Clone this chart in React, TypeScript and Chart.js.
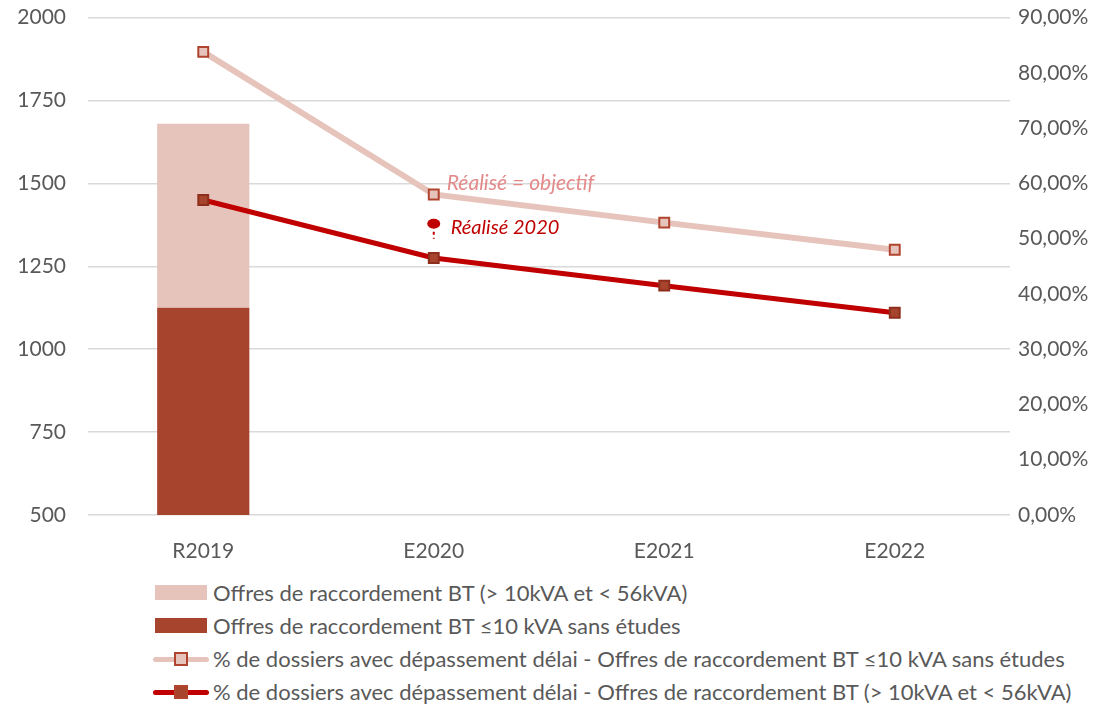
import React, { useEffect, useRef } from "react";
import { Chart, registerables } from "chart.js";

Chart.register(...registerables);

const categories = ["R2019", "E2020", "E2021", "E2022"];
const barDark = [1125, null, null, null];
const barLightStack = [555, null, null, null];
const lineLight = [83.8, 58.0, 52.9, 48.0];
const lineDark = [57.0, 46.5, 41.5, 36.6];
const realise2020 = 52.7;
const realiseIndex = 1;

const labelBarLight = "Offres de raccordement BT (> 10kVA et < 56kVA)";
const labelBarDark = "Offres de raccordement BT \u226410 kVA sans \u00e9tudes";
const labelLineLight = "% de dossiers avec d\u00e9passement d\u00e9lai - Offres de raccordement BT \u226410 kVA sans \u00e9tudes";
const labelLineDark = "% de dossiers avec d\u00e9passement d\u00e9lai - Offres de raccordement BT (> 10kVA et < 56kVA)";
const annotObjectif = "R\u00e9alis\u00e9 = objectif";
const annotRealise = "R\u00e9alis\u00e9 2020";

const FONT = "Lato, 'Open Sans', sans-serif";
const TEXT = "#595959";
const C_LIGHT_BAR = "#E6C4BB";
const C_DARK_BAR = "#A6442E";
const C_LIGHT_LINE = "#E6C4BB";
const C_DARK_LINE = "#C00000";
const C_MARK_BORDER = "#B0442E";

const annotPlugin = {
  id: "annot",
  afterDatasetsDraw(chart: any) {
    const ctx = chart.ctx;
    const x = chart.scales.x.getPixelForValue(realiseIndex);
    const y1 = chart.scales.y1;
    const yObj = y1.getPixelForValue(lineLight[realiseIndex]);
    const yReal = y1.getPixelForValue(realise2020);
    ctx.save();
    ctx.fillStyle = C_DARK_LINE;
    ctx.beginPath();
    ctx.ellipse(x, yReal, 6.5, 5, 0, 0, Math.PI * 2);
    ctx.fill();
    ctx.strokeStyle = C_DARK_LINE;
    ctx.lineWidth = 2;
    ctx.setLineDash([3, 3]);
    ctx.beginPath();
    ctx.moveTo(x, yReal + 8);
    ctx.lineTo(x, yReal + 15);
    ctx.stroke();
    ctx.setLineDash([]);
    ctx.font = "italic 20px " + FONT;
    ctx.textBaseline = "middle";
    ctx.fillStyle = C_DARK_LINE;
    ctx.fillText(annotRealise, x + 17, yReal + 4);
    ctx.fillStyle = "#E48A8A";
    ctx.font = "italic 21px " + FONT;
    ctx.fillText(annotObjectif, x + 13, yObj - 11);
    ctx.restore();
  },
};

function Swatch({ kind }: { kind: string }) {
  if (kind === "barLight" || kind === "barDark") {
    return (
      <div style={{ width: 52, height: 15, background: kind === "barLight" ? C_LIGHT_BAR : C_DARK_BAR, marginLeft: 2, marginRight: 6 }} />
    );
  }
  const light = kind === "lineLight";
  return (
    <div style={{ position: "relative", width: 56, height: 16, marginRight: 4 }}>
      <div style={{ position: "absolute", left: 0, right: 0, top: 6, height: 5, borderRadius: 3, background: light ? C_LIGHT_LINE : C_DARK_LINE }} />
      <div style={{ position: "absolute", left: 21, top: 1, width: 14, height: 14, boxSizing: "border-box", border: "2px solid " + C_MARK_BORDER, background: light ? C_LIGHT_BAR : C_DARK_BAR }} />
    </div>
  );
}

export default function App() {
  const ref = useRef<HTMLCanvasElement>(null);
  useEffect(() => {
    const chart = new Chart(ref.current as HTMLCanvasElement, {
      type: "bar",
      data: {
        labels: categories,
        datasets: [
          {
            type: "line",
            label: labelLineLight,
            data: lineLight,
            yAxisID: "y1",
            borderColor: C_LIGHT_LINE,
            borderWidth: 6,
            pointStyle: "rect",
            pointRadius: 7,
            pointBorderWidth: 2,
            pointBackgroundColor: C_LIGHT_BAR,
            pointBorderColor: C_MARK_BORDER,
            order: 0,
          },
          {
            type: "line",
            label: labelLineDark,
            data: lineDark,
            yAxisID: "y1",
            borderColor: C_DARK_LINE,
            borderWidth: 5,
            pointStyle: "rect",
            pointRadius: 7,
            pointBorderWidth: 2,
            pointBackgroundColor: C_DARK_BAR,
            pointBorderColor: "#8E2E1C",
            order: 0,
          },
          {
            type: "bar",
            label: labelBarDark,
            data: barDark as any,
            yAxisID: "y",
            backgroundColor: C_DARK_BAR,
            barPercentage: 0.4,
            categoryPercentage: 1,
            order: 1,
          },
          {
            type: "bar",
            label: labelBarLight,
            data: barLightStack as any,
            yAxisID: "y",
            backgroundColor: C_LIGHT_BAR,
            barPercentage: 0.4,
            categoryPercentage: 1,
            order: 1,
          },
        ],
      },
      options: {
        responsive: false,
        animation: false,
        layout: { padding: { top: 0, left: 0, right: 0, bottom: 0 } },
        plugins: { legend: { display: false }, tooltip: { enabled: false } },
        scales: {
          x: {
            stacked: true,
            offset: true,
            grid: { display: false },
            border: { display: false },
            ticks: { color: TEXT, font: { family: FONT, size: 21 }, padding: 16 },
            afterFit: (s: any) => { s.height = 53; },
          },
          y: {
            stacked: true,
            position: "left",
            min: 500,
            max: 2000,
            ticks: {
              stepSize: 250,
              color: TEXT,
              font: { family: FONT, size: 21 },
              padding: 22,
              callback: (v: any) => String(v),
            },
            grid: { color: "#D9D9D9", lineWidth: 1.5, drawTicks: false },
            border: { display: false },
            afterFit: (s: any) => { s.width = 80; },
          },
          y1: {
            position: "right",
            min: 0,
            max: 90,
            ticks: {
              stepSize: 10,
              color: TEXT,
              font: { family: FONT, size: 21 },
              padding: 8,
              callback: (v: any) => Number(v).toFixed(2).replace(".", ",") + "%",
            },
            grid: { display: false, drawTicks: false },
            border: { display: false },
            afterFit: (s: any) => { s.width = 89; },
          },
        },
      },
      plugins: [annotPlugin],
    });
    return () => chart.destroy();
  }, []);

  const items = [
    { kind: "barLight", label: labelBarLight },
    { kind: "barDark", label: labelBarDark },
    { kind: "lineLight", label: labelLineLight },
    { kind: "lineDark", label: labelLineDark },
  ];

  return (
    <div style={{ fontFamily: FONT }}>
      <canvas ref={ref} width={1091} height={585} style={{ display: "block", marginTop: -25 }} />
      <div style={{ marginTop: 8, paddingLeft: 145 }}>
        {items.map((it) => (
          <div key={it.kind} style={{ display: "flex", alignItems: "center", height: 33, color: TEXT, fontSize: 22, whiteSpace: "nowrap" }}>
            <Swatch kind={it.kind} />
            <span>{it.label}</span>
          </div>
        ))}
      </div>
    </div>
  );
}
